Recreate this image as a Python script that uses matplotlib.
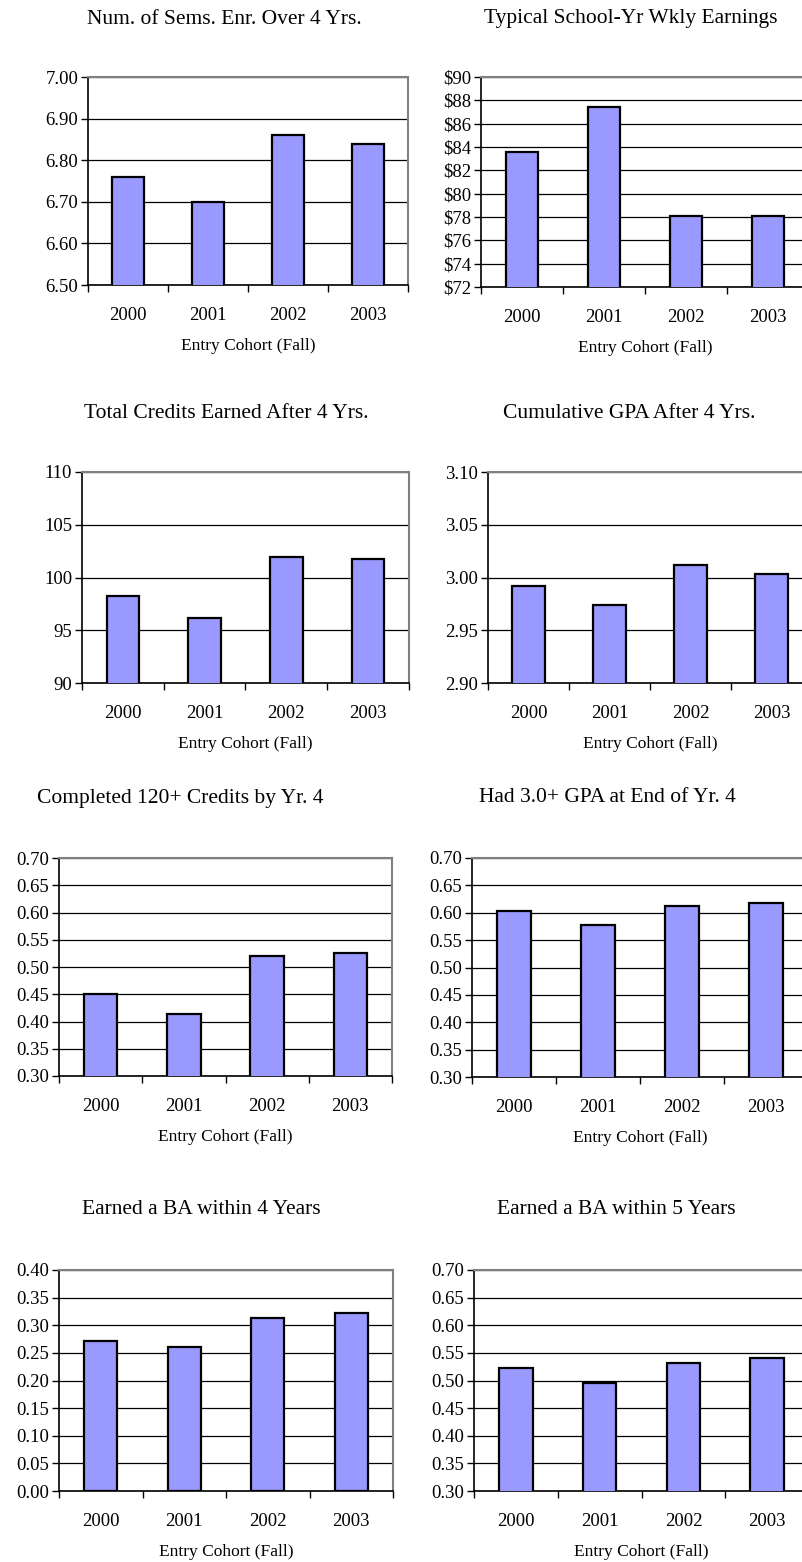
import numpy as np
import matplotlib
matplotlib.use("Agg")
import matplotlib.pyplot as plt
from matplotlib.ticker import FuncFormatter

plt.rcParams['font.family'] = ['Liberation Serif', 'DejaVu Serif']

cohorts = ['2000', '2001', '2002', '2003']
sems = [6.76, 6.70, 6.86, 6.84]
earnings = [83.6, 87.4, 78.1, 78.1]
credits = [98.2, 96.2, 101.9, 101.8]
gpa = [2.992, 2.974, 3.012, 3.003]
cred120 = [0.451, 0.414, 0.520, 0.526]
gpa30 = [0.604, 0.577, 0.613, 0.617]
ba4 = [0.272, 0.261, 0.314, 0.323]
ba5 = [0.522, 0.496, 0.532, 0.541]

titles = ['Num. of Sems. Enr. Over 4 Yrs.', 'Typical School-Yr Wkly Earnings',
          'Total Credits Earned After 4 Yrs.', 'Cumulative GPA After 4 Yrs.',
          'Completed 120+ Credits by Yr. 4', 'Had 3.0+ GPA at End of Yr. 4',
          'Earned a BA within 4 Years', 'Earned a BA within 5 Years']

W, H = 802, 1562
fig = plt.figure(figsize=(W / 100, H / 100), dpi=100)


def px_axes(x0, y0, x1, y1):
    return fig.add_axes([x0 / W, 1 - y1 / H, (x1 - x0) / W, (y1 - y0) / H])


def panel(box, vals, lo, hi, step, fmt, title, tpos):
    ax = px_axes(*box)
    x = np.arange(len(cohorts))
    ax.bar(x, vals, width=0.4, color='#9999FF', edgecolor='black', linewidth=1.6, zorder=3)
    ax.set_xlim(-0.5, len(cohorts) - 0.5)
    ax.set_ylim(lo, hi)
    ax.set_yticks(np.arange(lo, hi + step / 2, step))
    ax.yaxis.set_major_formatter(FuncFormatter(lambda v, p: fmt(v)))
    ax.yaxis.grid(True, color='black', linewidth=0.9, zorder=1)
    ax.set_axisbelow(True)
    # category boundary ticks, labels at centers
    ax.set_xticks(np.arange(-0.5, len(cohorts)), labels=[''] * (len(cohorts) + 1))
    ax.set_xticks(x, labels=cohorts, minor=True)
    ax.tick_params(axis='x', which='major', length=5, width=1, direction='out')
    ax.tick_params(axis='x', which='minor', length=0, pad=16, labelsize=13.5)
    ax.tick_params(axis='y', length=5, width=1, direction='out', labelsize=13.5, pad=2)
    ax.set_xlabel('Entry Cohort (Fall)', fontsize=12.5, labelpad=10)
    for s in ['left', 'bottom']:
        ax.spines[s].set_color('black')
        ax.spines[s].set_linewidth(1.2)
    for s in ['top', 'right']:
        ax.spines[s].set_color('#808080')
        ax.spines[s].set_linewidth(1.5)
    fig.text(tpos[0] / W, 1 - tpos[1] / H, title, ha='center', va='center', fontsize=15.5)
    return ax


panel((88, 77, 408, 285), sems, 6.5, 7.0, 0.1, lambda v: f'{v:.2f}', titles[0], (224, 19))
panel((481, 77, 809, 287), earnings, 72, 90, 2, lambda v: f'${v:.0f}', titles[1], (631, 19))
panel((82, 472, 409, 683), credits, 90, 110, 5, lambda v: f'{v:.0f}', titles[2], (226, 413))
panel((488, 472, 812, 683), gpa, 2.9, 3.1, 0.05, lambda v: f'{v:.2f}', titles[3], (629, 413))
panel((59, 858, 392, 1076), cred120, 0.3, 0.7, 0.05, lambda v: f'{v:.2f}', titles[4], (180, 798))
panel((472, 858, 808, 1077), gpa30, 0.3, 0.7, 0.05, lambda v: f'{v:.2f}', titles[5], (607, 798))
panel((59, 1270, 393, 1491), ba4, 0.0, 0.4, 0.05, lambda v: f'{v:.2f}', titles[6], (201, 1210))
panel((474, 1270, 809, 1491), ba5, 0.3, 0.7, 0.05, lambda v: f'{v:.2f}', titles[7], (616, 1210))

fig.savefig('out.png', dpi=100)
